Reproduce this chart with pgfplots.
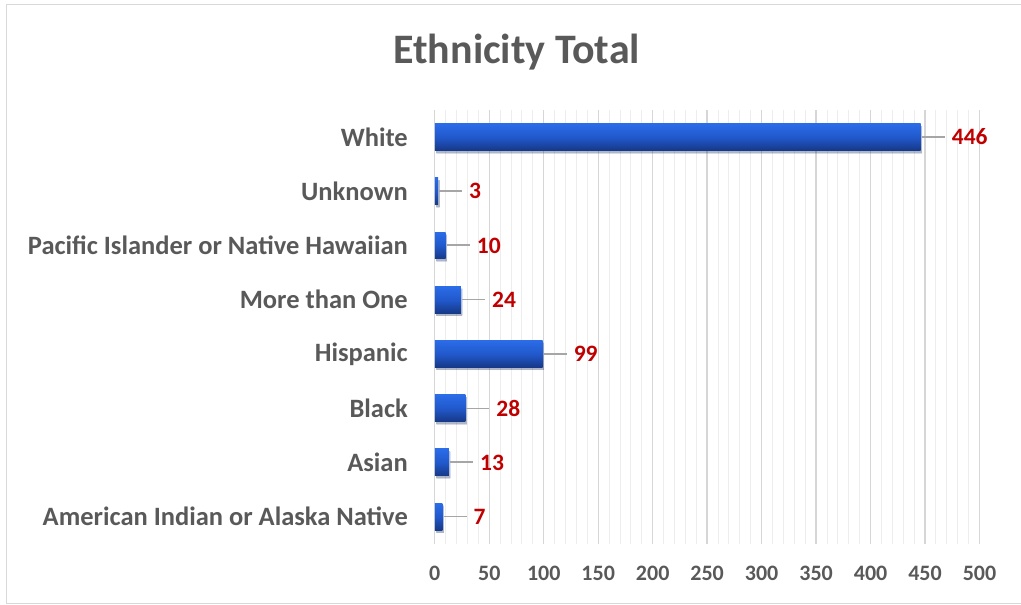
\documentclass[border=0pt]{standalone}
\usepackage{fontspec}
\setmainfont{Carlito}
\usepackage{pgfplots}
\pgfplotsset{compat=1.18}
\definecolor{txtgray}{HTML}{595959}
\definecolor{lblred}{HTML}{C00000}
\definecolor{bartop}{HTML}{2B6CE8}
\definecolor{barmid}{HTML}{2159CC}
\definecolor{barbot}{HTML}{163887}
\definecolor{bordergray}{HTML}{D9D9D9}
\definecolor{leadergray}{HTML}{A6A6A6}
\begin{document}
\begin{tikzpicture}[x=1pt,y=1pt]
\path (0,0) rectangle (1021,605);
\draw[bordergray, line width=1pt] (1021,600) -- (6.5,600) -- (6.5,1) -- (1021,1);
\node[font=\fontsize{42}{46}\selectfont\bfseries, text=txtgray] at (517,553) {Ethnicity Total};
\begin{axis}[
  at={(435pt,61pt)}, anchor=south west,
  scale only axis, width=545pt, height=434pt,
  xmin=0, xmax=500, ymin=-0.5, ymax=7.5,
  xtick={0,50,...,500}, minor x tick num=4,
  ytick={0,...,7},
  yticklabels={American Indian or Alaska Native, Asian, Black, Hispanic, More than One, Pacific Islander or Native Hawaiian, Unknown, White},
  xmajorgrids, xminorgrids,
  major grid style={draw=black!16, line width=1.4pt},
  minor grid style={draw=black!7, line width=1pt},
  axis line style={draw=none},
  major tick length=0pt, minor tick length=0pt,
  tick style={draw=none},
  ticklabel style={font=\fontsize{22}{26}\selectfont\bfseries, text=txtgray},
  /pgf/number format/assume math mode=true,
  xticklabel style={anchor=north, yshift=-19pt},
  yticklabel style={anchor=east, xshift=-23.5pt, font=\fontsize{26.5}{30}\selectfont\bfseries},
  clip=false,
  ethbar/.style={xbar, bar width=27pt, bar shift=0pt, draw=none,
    top color=bartop, bottom color=barbot, middle color=barmid,
    preaction={fill=black, opacity=0.18, transform canvas={shift={(1.5pt,-2.5pt)}}},
    point meta=x,
    nodes near coords={\textcolor{leadergray}{\rule[0.30em]{23pt}{1.6pt}}\hspace{7pt}\pgfmathprintnumber{\pgfplotspointmeta}},
    nodes near coords style={anchor=west, inner sep=0pt, xshift=1pt, font=\fontsize{23.5}{28}\selectfont\bfseries, text=lblred}},
]
\addplot[ethbar] coordinates {(7,0)};
\addplot[ethbar] coordinates {(13,1)};
\addplot[ethbar] coordinates {(28,2)};
\addplot[ethbar] coordinates {(99,3)};
\addplot[ethbar] coordinates {(24,4)};
\addplot[ethbar] coordinates {(10,5)};
\addplot[ethbar] coordinates {(3,6)};
\addplot[ethbar] coordinates {(446,7)};
\end{axis}
\end{tikzpicture}
\end{document}
